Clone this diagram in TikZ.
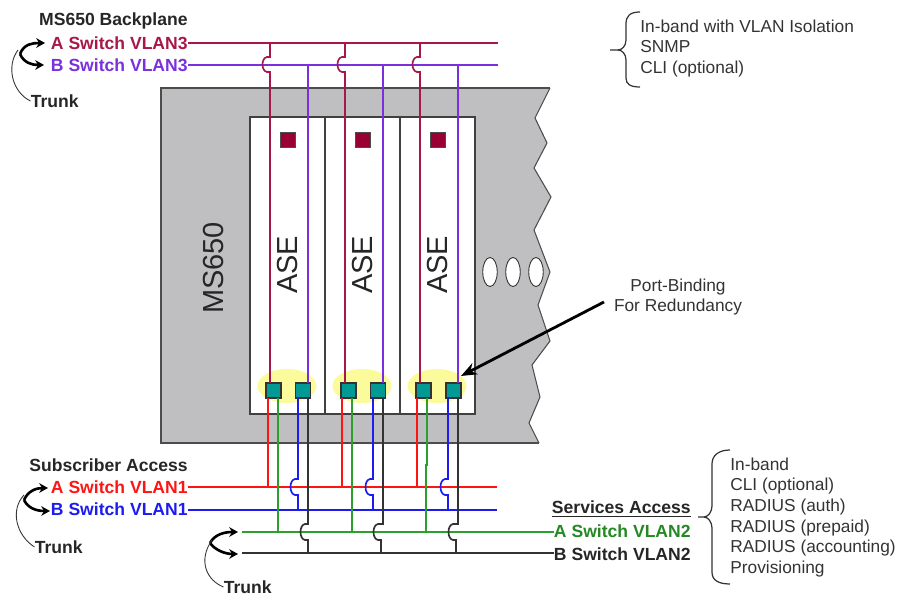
\documentclass[tikz,border=0pt]{standalone}
\usepackage{fontspec}
\setmainfont{Liberation Sans}
\usepackage{xcolor}
\usepackage{tikz}
\usetikzlibrary{arrows.meta}
\usetikzlibrary{shapes.geometric}

\definecolor{vthreeA}{HTML}{A8174A}
\definecolor{vthreeB}{HTML}{7A30DC}
\definecolor{voneA}{HTML}{FF1414}
\definecolor{voneB}{HTML}{1C1CF0}
\definecolor{vtwoA}{HTML}{2CA02C}
\definecolor{vtwoB}{HTML}{333333}
\definecolor{chassis}{HTML}{BFBEC0}
\definecolor{porteal}{HTML}{009994}
\definecolor{halo}{HTML}{FBFB9C}
\definecolor{ledred}{HTML}{990033}

\tikzset{
    vlan/.style={line width=0.95pt},
    swlabel/.style={anchor=east, inner sep=0pt, font=\fontsize{10pt}{11pt}\selectfont\bfseries, text=black!85},
    notes/.style={anchor=north west, inner sep=0pt, align=left, font=\fontsize{9.85pt}{11.7pt}\selectfont, text=black!80},
    portbox/.style={draw=black!80, fill=porteal, line width=0.8pt, minimum size=0.3cm, inner sep=0pt},
    ledbox/.style={draw=black!70, fill=ledred, line width=0.5pt, minimum size=0.3cm, inner sep=0pt},
    slotname/.style={rotate=90, inner sep=0pt, font=\fontsize{16.5pt}{18pt}\selectfont, text=black!85},
    glow/.style={ellipse, fill=halo, minimum width=1.18cm, minimum height=0.68cm, inner sep=0pt},
    moredot/.style={ellipse, draw=black!80, fill=white, line width=0.5pt, minimum width=0.29cm, minimum height=0.58cm, inner sep=0pt},
    trunkarrow/.style={line width=1.5pt, -{Stealth[length=5pt,width=5.5pt]}},
    trunkline/.style={line width=0.5pt, black!80},
    bracket/.style={line width=0.7pt, black!80}
}

% jump to the left over a crossing line
\newcommand{\hopleft}[1]{-- ++(-3,0) .. controls +(-6,1) and +(-6,-1) .. ++(0,#1) -- ++(3,0)}

\begin{document}
\begin{tikzpicture}[x=0.02cm, y=-0.02cm]
    \useasboundingbox (0,0) rectangle (897,597);

    % chassis with torn edge
    \fill[chassis] (161,88) -- (550,88) -- (535,118) -- (547,143) -- (534,168) -- (551,197)
        -- (534,230) -- (550,272) -- (538,305) -- (550,341) -- (532,365) -- (540,397) -- (529,423) -- (539,443)
        -- (161,443) -- cycle;
    \draw[draw=black!70, line width=1pt] (539,443) -- (161,443) -- (161,88) -- (550,88);
    \draw[draw=black!70, line width=0.6pt] (550,88) -- (535,118) -- (547,143) -- (534,168) -- (551,197)
        -- (534,230) -- (550,272) -- (538,305) -- (550,341) -- (532,365) -- (540,397) -- (529,423) -- (539,443);

    % ASE cards
    \draw[fill=white, draw=black!75, line width=1pt] (250,117) rectangle (475,414);
    \draw[draw=black!75, line width=1pt] (325,117) -- (325,414);
    \draw[draw=black!75, line width=1pt] (400,117) -- (400,414);

    \node[glow] (gloa) at (287,386) {};
    \node[glow] (glob) at (362,386) {};
    \node[glow] (gloc) at (437,386) {};

    \node[ledbox] (leda) at (287.5,140) {};
    \node[ledbox] (ledb) at (362.5,140) {};
    \node[ledbox] (ledc) at (437.5,140) {};

    \node[slotname] (asea) at (288,265) {ASE};
    \node[slotname] (aseb) at (363,265) {ASE};
    \node[slotname] (asec) at (438,265) {ASE};
    \node[slotname] (chname) at (214,268) {MS650};

    % ports
    \node[portbox] (pa) at (273.5,390.5) {};
    \node[portbox] (pb) at (303,390.5) {};
    \node[portbox] (pc) at (348.5,390.5) {};
    \node[portbox] (pd) at (378,390.5) {};
    \node[portbox] (pe) at (423.5,390.5) {};
    \node[portbox] (pf) at (453.5,390.5) {};

    % dots for more cards
    \node[moredot] (dota) at (490,272) {};
    \node[moredot] (dotb) at (513,272) {};
    \node[moredot] (dotc) at (536,272) {};

    % labels left
    \node[swlabel] (backplane) at (188,21) {MS650 Backplane};
    \node[swlabel, text=vthreeA] (athree) at (188,43) {A Switch VLAN3};
    \node[swlabel, text=vthreeB] (bthree) at (188,65) {B Switch VLAN3};
    \node[swlabel] (access) at (188,465) {Subscriber Access};
    \node[swlabel, text=voneA] (aone) at (188,487) {A Switch VLAN1};
    \node[swlabel, text=voneB] (bone) at (188,509) {B Switch VLAN1};
    \node[swlabel] (services) at (691,509) {\underline{Services Access}};
    \node[swlabel, text=vtwoA!85!black] (atwo) at (691,531) {A Switch VLAN2};
    \node[swlabel] (btwo) at (691,554) {B Switch VLAN2};
    \node[swlabel] (trunka) at (79,101) {Trunk};
    \node[swlabel] (trunkb) at (83,547) {Trunk};
    \node[swlabel] (trunkc) at (272,587) {Trunk};

    % backplane VLAN3
    \coordinate (aend) at (498,43);
    \coordinate (bend) at (498,65);
    \draw[vlan, vthreeA] (athree.east) -- (aend);
    \draw[vlan, vthreeB] (bthree.east) -- (bend);
    \draw[vlan, vthreeA] (270,43) -- (270,57) \hopleft{15} -- (270,383);
    \draw[vlan, vthreeA] (345,43) -- (345,57) \hopleft{15} -- (345,383);
    \draw[vlan, vthreeA] (420,43) -- (420,57) \hopleft{15} -- (420,383);
    \draw[vlan, vthreeB] (308,65) -- (308,383);
    \draw[vlan, vthreeB] (383,65) -- (383,383);
    \draw[vlan, vthreeB] (458,65) -- (458,383);

    % subscriber VLAN1
    \coordinate (cend) at (497,487);
    \coordinate (dend) at (497,510);
    \draw[vlan, voneA] (aone.east) -- (cend);
    \draw[vlan, voneB] (bone.east |- dend) -- (dend);
    \draw[vlan, voneA] (268,398) -- (268,487);
    \draw[vlan, voneA] (342,398) -- (342,487);
    \draw[vlan, voneA] (417,398) -- (417,487);
    \draw[vlan, voneB] (298,398) -- (298,479) \hopleft{16} -- (298,510);
    \draw[vlan, voneB] (373,398) -- (373,479) \hopleft{16} -- (373,510);
    \draw[vlan, voneB] (448,398) -- (448,479) \hopleft{16} -- (448,510);

    % services VLAN2
    \coordinate (estart) at (242,532);
    \coordinate (fstart) at (242,553);
    \draw[vlan, vtwoA] (estart) -- (atwo.west |- estart);
    \draw[vlan, vtwoB] (fstart) -- (btwo.west |- fstart);
    \draw[vlan, vtwoA] (278,398) -- (278,532);
    \draw[vlan, vtwoA] (352,398) -- (352,532);
    \draw[vlan, vtwoA] (427,398) -- (427,465) -- (426,465) -- (426,532);
    \draw[vlan, vtwoB] (308,398) -- (308,524) \hopleft{16} -- (308,553);
    \draw[vlan, vtwoB] (383,398) -- (383,524) -- (381,524) \hopleft{16} -- (381,553);
    \draw[vlan, vtwoB] (458,398) -- (458,524) -- (456,524) \hopleft{16} -- (456,553);

    % trunks
    \coordinate (tka) at (20,54);
    \draw[trunkarrow] (tka) .. controls (24,44) and (32,43) .. (45,43);
    \draw[trunkarrow] (tka) .. controls (24,63) and (32,65) .. (44,65);
    \draw[trunkline] (18,50) .. controls (6,66) and (12,92) .. (trunka.west);

    \coordinate (tkb) at (24,500);
    \draw[trunkarrow] (tkb) .. controls (28,491) and (36,488) .. (48,488);
    \draw[trunkarrow] (tkb) .. controls (28,508) and (36,511) .. (50,511);
    \draw[trunkline] (24,495) .. controls (10,510) and (16,535) .. (trunkb.west);

    \coordinate (tkc) at (210,543);
    \draw[trunkarrow] (tkc) .. controls (215,534) and (225,532) .. (238,532);
    \draw[trunkarrow] (tkc) .. controls (215,550) and (225,554) .. (238,554);
    \draw[trunkline] (212,540) .. controls (198,560) and (206,580) .. (trunkc.west);

    % braces and notes
    \draw[bracket] (640,12) .. controls (630,12) and (626,16) .. (626,24) -- (626,40)
        .. controls (626,46) and (622,50) .. (618,50) -- (610,50);
    \draw[bracket] (618,50) .. controls (622,50) and (626,54) .. (626,60) -- (626,78)
        .. controls (626,84) and (630,87) .. (640,87);
    \node[notes] (notetop) at (640,19.5) {In-band with VLAN Isolation\\SNMP\\CLI (optional)};

    \draw[bracket] (730,450) .. controls (718,450) and (712,456) .. (712,464) -- (712,506)
        .. controls (712,512) and (708,517) .. (704,517) -- (698,517);
    \draw[bracket] (704,517) .. controls (708,517) and (712,522) .. (712,528) -- (712,572)
        .. controls (712,580) and (718,584) .. (730,584);
    \node[notes] (notebot) at (730,457.5) {In-band\\CLI (optional)\\RADIUS (auth)\\RADIUS (prepaid)\\RADIUS (accounting)\\Provisioning};

    % port binding callout
    \node[notes, anchor=center, align=center] (binding) at (678,297) {Port-Binding\\For Redundancy};
    \coordinate (bindtip) at (461,376);
    \draw[line width=1.6pt, -{Stealth[length=9pt,width=7pt]}] (604,302) -- (bindtip);
\end{tikzpicture}
\end{document}
